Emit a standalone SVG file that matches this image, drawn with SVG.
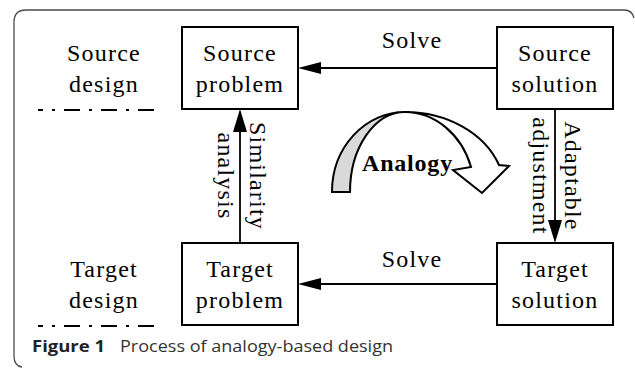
<svg xmlns="http://www.w3.org/2000/svg" width="635" height="369" viewBox="0 0 635 369">
  <defs>
    <style>
      .frame { fill: none; stroke: #4a4a4a; stroke-width: 1.3; }
      .box { fill: #ffffff; stroke: #000000; stroke-width: 2; }
      .lbl { font-family: "Liberation Serif", "Times New Roman", serif; font-size: 24px; fill: #000000; letter-spacing: 1.2px; text-anchor: middle; }
      .edge { fill: none; stroke: #000000; stroke-width: 1.8; }
      .head { fill: #000000; stroke: none; }
      .sep { fill: none; stroke: #000000; stroke-width: 2; stroke-dasharray: 16 9 3 9; }
      .cap { font-family: "Open Sans", "Noto Sans", "Liberation Sans", sans-serif; font-size: 16px; }
    </style>
  </defs>

  <rect x="0" y="0" width="635" height="369" fill="#ffffff"/>

  <!-- figure frame (open on the right and bottom) -->
  <path class="frame" d="M22,367 Q14,366 14,356 L14,22 Q14,10 26,10 L624,10 Q632,10 634,18"/>

  <!-- side labels and level separators -->
  <g id="source-design">
    <text class="lbl" x="104" y="61">Source</text>
    <text class="lbl" x="104" y="92">design</text>
    <line class="sep" x1="38" y1="110" x2="158" y2="110" stroke-dashoffset="11"/>
  </g>
  <g id="target-design">
    <text class="lbl" x="104" y="277">Target</text>
    <text class="lbl" x="104" y="308">design</text>
    <line class="sep" x1="38" y1="326" x2="158" y2="326" stroke-dashoffset="11"/>
  </g>

  <!-- nodes -->
  <g id="source-problem">
    <rect class="box" x="182" y="27" width="116" height="82"/>
    <text class="lbl" x="240" y="61">Source</text>
    <text class="lbl" x="240" y="92">problem</text>
  </g>
  <g id="source-solution">
    <rect class="box" x="497" y="27" width="116" height="82"/>
    <text class="lbl" x="555" y="61">Source</text>
    <text class="lbl" x="555" y="92">solution</text>
  </g>
  <g id="target-problem">
    <rect class="box" x="182" y="243" width="116" height="82"/>
    <text class="lbl" x="240" y="277">Target</text>
    <text class="lbl" x="240" y="308">problem</text>
  </g>
  <g id="target-solution">
    <rect class="box" x="497" y="243" width="116" height="82"/>
    <text class="lbl" x="555" y="277">Target</text>
    <text class="lbl" x="555" y="308">solution</text>
  </g>

  <!-- connectors -->
  <g id="connectors">
    <!-- source solution -> source problem -->
    <line class="edge" x1="497" y1="68" x2="318" y2="68"/>
    <polygon class="head" points="298,68 321,62 321,74"/>
    <text class="lbl" x="412" y="48">Solve</text>

    <!-- target solution -> target problem -->
    <line class="edge" x1="497" y1="284" x2="318" y2="284"/>
    <polygon class="head" points="298,284 321,278 321,290"/>
    <text class="lbl" x="412" y="267">Solve</text>

    <!-- target problem -> source problem -->
    <line class="edge" x1="240" y1="243" x2="240" y2="128"/>
    <polygon class="head" points="240,109 233,132 247,132"/>
    <g transform="translate(240,176) rotate(90)">
      <text class="lbl" x="0" y="-10">Similarity</text>
      <text class="lbl" x="0" y="22">analysis</text>
    </g>

    <!-- source solution -> target solution -->
    <line class="edge" x1="555" y1="109" x2="555" y2="224"/>
    <polygon class="head" points="555,243 548,220 562,220"/>
    <g transform="translate(555,176) rotate(90)">
      <text class="lbl" x="0" y="-10">Adaptable</text>
      <text class="lbl" x="0" y="22">adjustment</text>
    </g>
  </g>

  <!-- curved analogy arrow -->
  <g id="analogy">
    <path d="M332,192 A73,80 0 0 1 405,112 A55,80 0 0 0 350,192 Z" fill="#d9d9d9" stroke="#000000" stroke-width="2" stroke-linejoin="miter"/>
    <path d="M405,112 A100,80 0 0 1 499,165 L509,166 L482,193 L453,170 L471,167 A70,80 0 0 0 405,112 Z" fill="#ffffff" stroke="#000000" stroke-width="2" stroke-linejoin="miter"/>
    <text x="362" y="171" font-family="'Liberation Serif', 'Times New Roman', serif" font-size="24" font-weight="bold" letter-spacing="0.8">Analogy</text>
  </g>

  <!-- caption -->
  <text class="cap" x="32" y="352" font-weight="bold" fill="#222222" textLength="73" lengthAdjust="spacingAndGlyphs">Figure 1</text>
  <text class="cap" x="120" y="352" fill="#333333" textLength="273" lengthAdjust="spacingAndGlyphs">Process of analogy-based design</text>
</svg>
